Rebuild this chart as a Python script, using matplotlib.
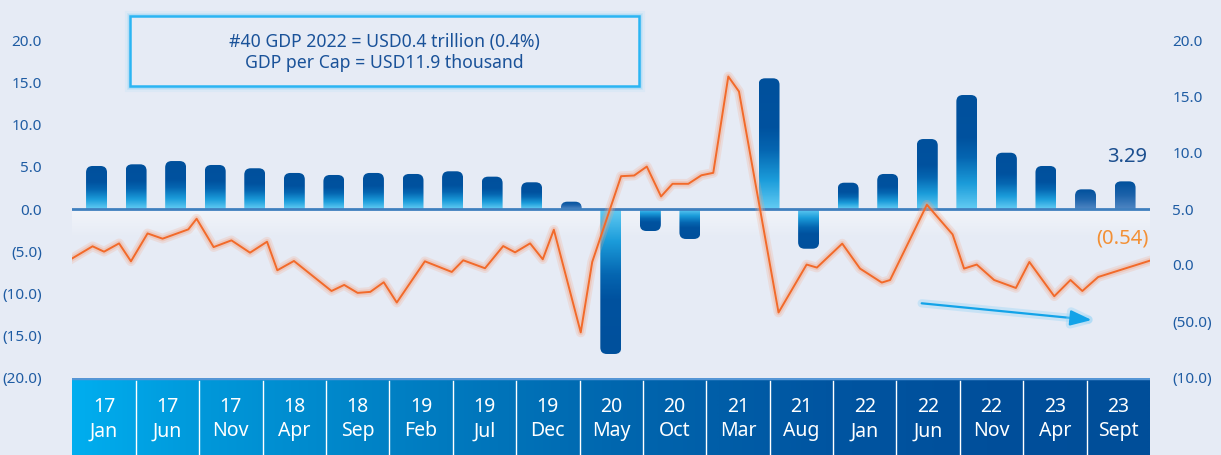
import numpy as np
import matplotlib
matplotlib.use("Agg")
import matplotlib.pyplot as plt
from matplotlib.path import Path
from matplotlib.patches import PathPatch, Rectangle, FancyArrowPatch
import matplotlib.patheffects as pe
from matplotlib.colors import LinearSegmentedColormap

plt.rcParams['font.family'] = ['Noto Sans', 'DejaVu Sans']

# ---------------- data ----------------
# quarterly real GDP growth (% YoY), left axis
gdp_growth = [5.12, 5.32, 5.71, 5.24, 4.85, 4.29, 4.05, 4.29, 4.17, 4.49, 3.85, 3.18,
              0.87, -17.26, -2.62, -3.57, 0.0, 15.56, -4.73, 3.13, 4.17, 8.33, 13.57,
              6.70, 5.12, 2.34, 3.29]
# secondary series (right axis), positions on the quarter axis
line_x = [-0.61, -0.10, 0.19, 0.57, 0.87, 1.29, 1.67, 2.32, 2.53, 2.96,
          3.41, 3.88, 4.31, 4.57, 4.99, 5.94, 6.26, 6.60, 6.92, 7.26,
          7.59, 8.30, 8.98, 9.27, 9.82, 10.28, 10.58, 10.96, 11.28, 11.56,
          12.24, 12.53, 13.26, 13.59, 13.91, 14.27, 14.56, 14.96, 15.29, 15.59,
          15.97, 16.24, 17.24, 17.95, 18.21, 18.85, 19.30, 19.85, 20.06, 20.99,
          21.64, 21.93, 22.25, 22.69, 23.24, 23.58, 24.21, 24.62, 24.92, 25.32,
          26.63]
line_y = [0.60, 1.67, 1.19, 1.93, 0.33, 2.82, 2.35, 3.18, 4.13, 1.60,
          2.20, 1.10, 2.08, -0.47, 0.36, -2.32, -1.78, -2.49, -2.40, -1.54,
          -3.35, 0.33, -0.62, 0.42, -0.29, 1.69, 1.13, 1.93, 0.51, 3.15,
          -6.02, 0.27, 7.93, 7.99, 8.79, 6.12, 7.25, 7.25, 8.01, 8.23,
          16.83, 15.49, -4.24, 0.04, -0.23, 1.91, -0.32, -1.57, -1.34, 5.38,
          2.73, -0.32, 0.04, -1.34, -2.05, 0.27, -2.79, -1.34, -2.32, -1.07,
          0.39]
categories = ["17\nJan", "17\nJun", "17\nNov", "18\nApr", "18\nSep", "19\nFeb", "19\nJul",
              "19\nDec", "20\nMay", "20\nOct", "21\nMar", "21\nAug", "22\nJan", "22\nJun",
              "22\nNov", "23\nApr", "23\nSept"]
left_ticks = [20, 15, 10, 5, 0, -5, -10, -15, -20]
right_ticks = [20, 15, 10, 5, 0, -5, -10]
right_tick_labels = ["20.0", "15.0", "10.0", "5.0", "0.0", "(50.0)", "(10.0)"]
bar_label = "3.29"
line_label = "(0.54)"
box_lines = ["#40 GDP 2022 = USD0.4 trillion (0.4%)", "GDP per Cap = USD11.9 thousand"]

# ---------------- style ----------------
W, H = 1221, 455
BG = '#E6EBF5'
TICK_C = '#1F5CA3'
muted_bars = {12, 25, 26}

fig = plt.figure(figsize=(W / 100, H / 100), dpi=100)
fig.patch.set_facecolor(BG)


def px_rect(x0, y0, x1, y1):
    return [x0 / W, 1 - y1 / H, (x1 - x0) / W, (y1 - y0) / H]


ax = fig.add_axes(px_rect(72.4, 41, 1150, 377))
ax.set_facecolor('none')
for s in ax.spines.values():
    s.set_visible(False)
XL = (-0.61, 26.63)
ax.set_xlim(*XL)
ax.set_ylim(-20, 20)

# soft light band below zero line
glow = np.zeros((50, 1, 4))
glow[..., :3] = 1.0
glow[:, 0, 3] = np.linspace(0.0, 0.5, 50)
ax.imshow(glow, extent=(XL[0], XL[1], -3.5, 0), origin='lower', aspect='auto', zorder=0.5,
          interpolation='bilinear')

cmap_main = LinearSegmentedColormap.from_list(
    'main', [(0.0, '#62CBF3'), (0.22, '#1B9CDA'), (0.45, '#0566B1'),
             (0.62, '#00529F'), (1.0, '#00509C')])
cmap_muted = LinearSegmentedColormap.from_list(
    'muted', [(0.0, '#4F86C3'), (0.5, '#1C62AA'), (1.0, '#00509C')])

bars = ax.bar(np.arange(len(gdp_growth)), gdp_growth, width=0.53, color='none', linewidth=0)

RX_PX, RY_PX = 6.5, 6.5
ppx = (1150 - 72.4) / (XL[1] - XL[0])
ppy = (377 - 41) / 40.0
for i, rect in enumerate(bars.patches):
    h = rect.get_height()
    if h == 0:
        continue
    x0 = rect.get_x()
    x1 = x0 + rect.get_width()
    base = rect.get_y()
    top = base + h
    sgn = 1 if h > 0 else -1
    rx = RX_PX / ppx
    ry = min(RY_PX / ppy, abs(h))
    verts = [(x0, base), (x0, top - sgn * ry), (x0, top), (x0 + rx, top),
             (x1 - rx, top), (x1, top), (x1, top - sgn * ry), (x1, base), (x0, base)]
    codes = [Path.MOVETO, Path.LINETO, Path.CURVE3, Path.CURVE3,
             Path.LINETO, Path.CURVE3, Path.CURVE3, Path.LINETO, Path.CLOSEPOLY]
    clip = PathPatch(Path(verts, codes), transform=ax.transData, facecolor='none',
                     edgecolor='none')
    ax.add_patch(clip)
    cm = cmap_muted if i in muted_bars else cmap_main
    t = np.linspace(0, 1, 200)
    cols = cm(t)
    if h > 0:
        arr = cols[:, None, :]
        ext = (x0, x1, base, top)
    else:
        arr = cols[::-1][:, None, :]
        ext = (x0, x1, top, base)
    im = ax.imshow(arr, extent=ext, origin='lower', aspect='auto', zorder=2,
                   interpolation='bilinear')
    im.set_clip_path(clip)

ax.set_xlim(*XL)
ax.set_ylim(-20, 20)
ax.axhline(0, color='#3F7FBE', lw=2.0, zorder=3)

ax.set_xticks([])
ax.set_yticks(left_ticks)
ax.set_yticklabels([f"{v:.1f}" if v >= 0 else f"({abs(v):.1f})" for v in left_ticks])
ax.tick_params(axis='y', length=0, pad=22, labelsize=11, labelcolor=TICK_C)

last = bars.patches[-1]
ax.annotate(bar_label, xy=(last.get_x() + last.get_width() / 2, gdp_growth[-1]),
            xytext=(22, 24), textcoords='offset pixels', ha='right', va='center',
            fontsize=14.5, color='#1C4F8F', zorder=6)

# ---------------- right axis line ----------------
ax2 = ax.twinx()
ax2.set_xlim(*XL)
ax2.set_ylim(-10, 20)
for s in ax2.spines.values():
    s.set_visible(False)
ax2.set_yticks(right_ticks)
ax2.set_yticklabels(right_tick_labels)
ax2.tick_params(axis='y', length=0, pad=16, labelsize=11, labelcolor=TICK_C)
ax2.plot(line_x, line_y, color='#F26A2A', lw=1.4, solid_joinstyle='round', zorder=5,
         path_effects=[pe.Stroke(linewidth=7, foreground='#F4A585', alpha=0.22,
                                 joinstyle='round'),
                       pe.Stroke(linewidth=4, foreground='#F4A585', alpha=0.35,
                                 joinstyle='round'),
                       pe.Normal()])
ax2.annotate(line_label, xy=(line_x[-1], line_y[-1]), xytext=(-1, 22),
             textcoords='offset pixels', ha='right', va='center', fontsize=14.5,
             color='#F39035')

# arrow
arrow_kw = dict(transform=fig.transFigure, arrowstyle='-|>,head_length=13,head_width=4.7',
                mutation_scale=1, color='#13A3E8', lw=1.6, shrinkA=0, shrinkB=0)
arr = FancyArrowPatch((921.7 / W, 1 - 303.3 / H), (1091.7 / W, 1 - 320 / H), **arrow_kw)
arr.set_path_effects([pe.Stroke(linewidth=6, foreground='#8FD3F5', alpha=0.35), pe.Normal()])
fig.add_artist(arr)

# ---------------- info box ----------------
bx0, by0, bx1, by1 = 129.6, 15.7, 639, 86
for lw, a in [(8, 0.10), (5, 0.18), (3.5, 0.3)]:
    fig.add_artist(Rectangle((bx0 / W, 1 - by1 / H), (bx1 - bx0) / W, (by1 - by0) / H,
                             transform=fig.transFigure, fill=False, edgecolor='#7FD0F7',
                             lw=lw, alpha=a))
fig.add_artist(Rectangle((bx0 / W, 1 - by1 / H), (bx1 - bx0) / W, (by1 - by0) / H,
                         transform=fig.transFigure, facecolor=BG, edgecolor='#2BB5F3', lw=1.8))
cx = (bx0 + bx1) / 2 / W
fig.text(cx, 1 - 41.7 / H, box_lines[0], ha='center', va='center', fontsize=12.7, color='#1A5299')
fig.text(cx, 1 - 63.0 / H, box_lines[1], ha='center', va='center', fontsize=12.7, color='#1A5299')

# ---------------- category band ----------------
cat = fig.add_axes(px_rect(72.4, 378, 1150, 455))
cat.set_xlim(0, len(categories))
cat.set_ylim(0, 1)
cat.axis('off')
band_cmap = LinearSegmentedColormap.from_list(
    'band', [(0.0, '#00AEEF'), (0.12, '#0098DA'), (0.3, '#0080C4'), (0.5, '#0067AF'),
             (0.7, '#0055A1'), (0.85, '#004F9B'), (1.0, '#004E99')])
grad = band_cmap(np.linspace(0, 1, 512))[None, :, :]
cat.imshow(grad, extent=(0, len(categories), 0, 1), origin='lower', aspect='auto',
           interpolation='bilinear')
cat.set_xlim(0, len(categories))
cat.set_ylim(0, 1)
cat.axhline(1, color='#5596D6', lw=2.5)
for i in range(1, len(categories)):
    cat.plot([i, i], [0, 0.96], color='white', lw=1.0)
for i, lab in enumerate(categories):
    cat.text(i + 0.5, 0.465, lab, ha='center', va='center', fontsize=14, color='white',
             linespacing=1.3)

fig.savefig('out.png', dpi=100, facecolor=BG)
